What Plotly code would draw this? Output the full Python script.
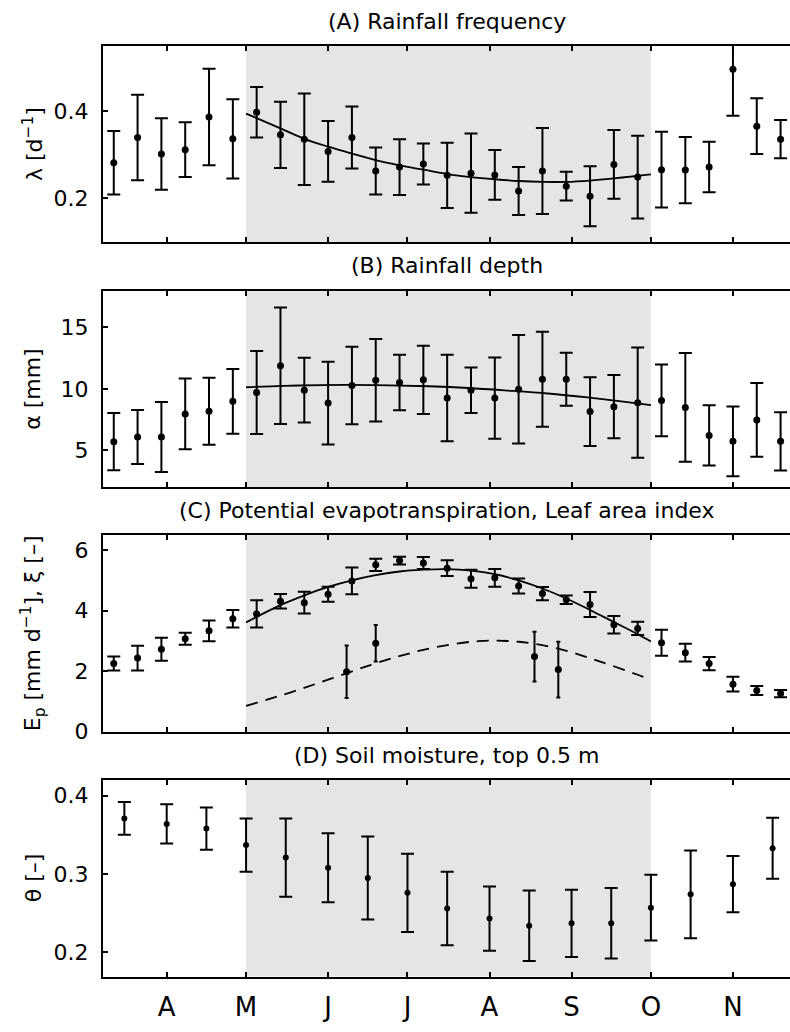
import plotly.graph_objects as go

# ---------------------------------------------------------------- data
# day of year of each 9-day window centre
doy = [71, 80, 89, 98, 107, 116, 125, 134, 143, 152, 161, 170, 179, 188, 197,
       206, 215, 224, 233, 242, 251, 260, 269, 278, 287, 296, 305, 314, 323]

# (A) rainfall frequency lambda [1/d]
lam = [0.282, 0.340, 0.302, 0.312, 0.387, 0.337, 0.398, 0.346, 0.336, 0.308,
       0.340, 0.263, 0.272, 0.279, 0.253, 0.258, 0.254, 0.217, 0.263, 0.228,
       0.205, 0.278, 0.249, 0.266, 0.265, 0.272, 0.497, 0.366, 0.336]
lam_err = [0.073, 0.098, 0.082, 0.063, 0.111, 0.091, 0.058, 0.076, 0.105, 0.070,
           0.071, 0.054, 0.064, 0.047, 0.075, 0.091, 0.057, 0.055, 0.099, 0.033,
           0.069, 0.079, 0.095, 0.087, 0.076, 0.058, 0.107, 0.064, 0.044]
lam_fit_x = [121, 134, 143, 152, 161, 170, 179, 188, 197, 206, 215, 224, 233,
             242, 251, 260, 269, 274]
lam_fit = [0.395, 0.361, 0.337, 0.319, 0.303, 0.288, 0.276, 0.266, 0.256, 0.249,
           0.244, 0.240, 0.238, 0.238, 0.241, 0.246, 0.252, 0.255]

# (B) rainfall depth alpha [mm]
alpha = [5.70, 6.08, 6.08, 7.96, 8.17, 8.98, 9.70, 11.88, 9.89, 8.84, 10.27,
         10.70, 10.51, 10.73, 9.25, 9.89, 9.25, 9.97, 10.78, 10.78, 8.15, 8.55,
         8.87, 9.06, 8.49, 6.21, 5.73, 7.47, 5.73]
alpha_err = [2.33, 2.20, 2.85, 2.88, 2.73, 2.64, 3.38, 4.75, 2.64, 3.37, 3.15,
             3.35, 2.26, 2.77, 3.52, 1.85, 3.31, 4.42, 3.87, 2.15, 2.80, 2.57,
             4.49, 2.93, 4.42, 2.45, 2.84, 3.01, 2.37]
alpha_fit_x = [121, 135, 150, 160, 175, 190, 205, 220, 235, 250, 262, 274]
alpha_fit = [10.13, 10.24, 10.31, 10.32, 10.29, 10.21, 10.07, 9.86, 9.62, 9.30,
             9.00, 8.68]

# (C) potential evapotranspiration Ep [mm/d]
ep = [2.25, 2.43, 2.72, 3.07, 3.33, 3.73, 3.89, 4.31, 4.26, 4.54, 4.98, 5.51,
      5.65, 5.57, 5.40, 5.05, 5.08, 4.81, 4.56, 4.36, 4.20, 3.53, 3.41, 2.94,
      2.61, 2.25, 1.57, 1.36, 1.26]
ep_err = [0.23, 0.41, 0.38, 0.20, 0.34, 0.29, 0.45, 0.24, 0.36, 0.25, 0.44, 0.20,
          0.13, 0.20, 0.26, 0.30, 0.29, 0.25, 0.22, 0.14, 0.41, 0.29, 0.22, 0.43,
          0.29, 0.22, 0.24, 0.15, 0.12]
ep_fit_x = [121, 134, 143, 152, 161, 170, 179, 188, 197, 206, 215, 224, 233,
            242, 251, 260, 269, 274]
ep_fit = [3.61, 4.18, 4.50, 4.78, 5.00, 5.17, 5.29, 5.35, 5.37, 5.32, 5.20, 5.00,
          4.73, 4.40, 4.02, 3.62, 3.22, 2.98]

# leaf area index xi [-]
lai_x = [159, 170, 230, 239]
lai = [1.98, 2.92, 2.48, 2.05]
lai_err = [0.87, 0.60, 0.82, 0.92]
lai_fit_x = [121, 139, 154, 168, 180, 192, 209, 224, 239, 254, 269, 274]
lai_fit = [0.85, 1.33, 1.78, 2.20, 2.52, 2.78, 2.99, 2.97, 2.74, 2.34, 1.88, 1.72]

# (D) soil moisture, top 0.5 m
theta_x = [75, 91, 106, 121, 136, 152, 167, 182, 197, 213, 228, 244, 259, 274,
           289, 305, 320]
theta = [0.371, 0.364, 0.358, 0.337, 0.321, 0.308, 0.295, 0.276, 0.256, 0.243,
         0.234, 0.237, 0.237, 0.257, 0.274, 0.287, 0.333]
theta_err = [0.021, 0.025, 0.027, 0.034, 0.050, 0.044, 0.053, 0.050, 0.047,
             0.041, 0.045, 0.043, 0.045, 0.042, 0.056, 0.036, 0.039]

# month ticks (first day of month) and growing season
month_doy = [91, 121, 152, 182, 213, 244, 274, 305]
month_lbl = ["A", "M", "J", "J", "A", "S", "O", "N"]
season = (121, 274)

titles = ["(A) Rainfall frequency", "(B) Rainfall depth",
          "(C) Potential evapotranspiration, Leaf area index",
          "(D) Soil moisture, top 0.5 m"]
ytitles = ["λ [d<sup>−1</sup>]", "α [mm]",
           "E<sub>p</sub> [mm d<sup>−1</sup>], ξ [–]", "θ [–]"]

# ---------------------------------------------------------------- layout
W, H = 790, 1032
FONT = "DejaVu Sans"
x_dom = [103 / W, 1.0]
x_rng = [66.93, 326.56]
panel_px = [(46.7, 245.0), (294.3, 493.3), (541.7, 741.0), (790.0, 989.0)]
y_rngs = [[0.1, 0.55], [2, 18], [0, 6.5], [0.169, 0.42]]
y_ticks = [[0.2, 0.4], [5, 10, 15], [0, 2, 4, 6], [0.2, 0.3, 0.4]]
y_ticktext = [["0.2", "0.4"], ["5", "10", "15"], ["0", "2", "4", "6"],
              ["0.2", "0.3", "0.4"]]

fig = go.Figure()


def ax(i):
    return ("x", "y") if i == 1 else (f"x{i}", f"y{i}")


def err_trace(i, x, y, e, msize=7, cap=6.5):
    xa, ya = ax(i)
    fig.add_trace(go.Scatter(
        x=x, y=y, mode="markers", xaxis=xa, yaxis=ya,
        marker=dict(color="black", size=msize),
        error_y=dict(type="data", array=e, visible=True, color="black",
                     thickness=2, width=cap),
        showlegend=False, hoverinfo="skip"))


def line_trace(i, x, y, dash="solid"):
    xa, ya = ax(i)
    fig.add_trace(go.Scatter(
        x=x, y=y, mode="lines", xaxis=xa, yaxis=ya,
        line=dict(color="black", width=1.8, shape="spline", smoothing=1.0,
                  dash=dash),
        showlegend=False, hoverinfo="skip"))


line_trace(1, lam_fit_x, lam_fit)
err_trace(1, doy, lam, lam_err)
line_trace(2, alpha_fit_x, alpha_fit)
err_trace(2, doy, alpha, alpha_err)
line_trace(3, ep_fit_x, ep_fit)
line_trace(3, lai_fit_x, lai_fit, dash="12px,8px")
err_trace(3, doy, ep, ep_err)
err_trace(3, lai_x, lai, lai_err, cap=2)
err_trace(4, theta_x, theta, theta_err, msize=6, cap=6.5)

layout = dict(width=W, height=H, margin=dict(l=0, r=0, t=0, b=0),
              paper_bgcolor="white", plot_bgcolor="white",
              font=dict(family=FONT, color="black"), showlegend=False)
shapes, annos = [], []
for i in range(1, 5):
    top, bot = panel_px[i - 1]
    y_dom = [1 - bot / H, 1 - top / H]
    xk = "xaxis" if i == 1 else f"xaxis{i}"
    yk = "yaxis" if i == 1 else f"yaxis{i}"
    xa, ya = ax(i)
    layout[xk] = dict(
        domain=x_dom, range=x_rng, anchor=ya, tickmode="array",
        tickvals=month_doy, ticktext=month_lbl, showticklabels=(i == 4),
        ticks="inside", ticklen=5, tickwidth=1.5, tickcolor="black",
        showline=True, linecolor="black", linewidth=2, mirror="ticks",
        showgrid=False, zeroline=False, ticklabelstandoff=6,
        tickfont=dict(family=FONT, size=26, color="black"))
    layout[yk] = dict(
        domain=y_dom, range=y_rngs[i - 1], anchor=xa, tickmode="array",
        tickvals=y_ticks[i - 1], ticktext=y_ticktext[i - 1],
        ticks="inside", ticklen=5, tickwidth=1.5, tickcolor="black",
        showline=True, linecolor="black", linewidth=2, mirror=False,
        showgrid=False, zeroline=False, ticklabelstandoff=8,
        tickfont=dict(family=FONT, size=22, color="black"))
    shapes.append(dict(type="rect", xref=xa, yref=f"{ya} domain",
                       x0=season[0], x1=season[1], y0=0, y1=1,
                       fillcolor="#e5e5e5", line=dict(width=0), layer="below"))
    annos.append(dict(text=titles[i - 1], xref="paper", yref="paper",
                      x=0.5 * (x_dom[0] + x_dom[1]), y=1 - (top - 25) / H,
                      xanchor="center", yanchor="middle", showarrow=False,
                      font=dict(family=FONT, size=22, color="black")))
    annos.append(dict(text=ytitles[i - 1], xref="paper", yref="paper",
                      x=33 / W, y=1 - 0.5 * (top + bot) / H, textangle=-90,
                      xanchor="center", yanchor="middle", showarrow=False,
                      font=dict(family=FONT, size=22, color="black")))

layout["shapes"] = shapes
layout["annotations"] = annos
fig.update_layout(**layout)
fig.write_html("out.html")
